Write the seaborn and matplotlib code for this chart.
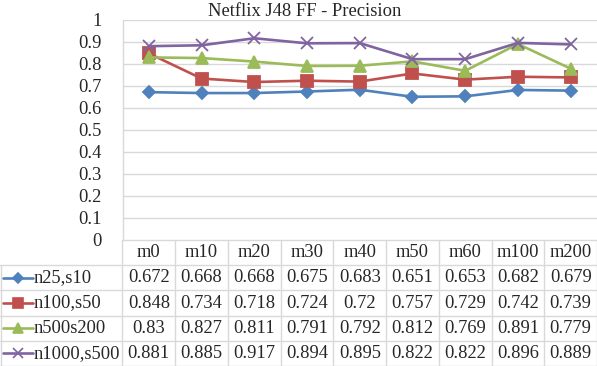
import numpy as np
import pandas as pd
import matplotlib
matplotlib.use("Agg")
import matplotlib.pyplot as plt
import seaborn as sns

categories = ["m0", "m10", "m20", "m30", "m40", "m50", "m60", "m100", "m200"]
series_names = ["n25,s10", "n100,s50", "n500s200", "n1000,s500"]
n25_s10 = [0.672, 0.668, 0.668, 0.675, 0.683, 0.651, 0.653, 0.682, 0.679]
n100_s50 = [0.848, 0.734, 0.718, 0.724, 0.72, 0.757, 0.729, 0.742, 0.739]
n500_s200 = [0.83, 0.827, 0.811, 0.791, 0.792, 0.812, 0.769, 0.891, 0.779]
n1000_s500 = [0.881, 0.885, 0.917, 0.894, 0.895, 0.822, 0.822, 0.896, 0.889]
series_values = [n25_s10, n100_s50, n500_s200, n1000_s500]
yticks = [0, 0.1, 0.2, 0.3, 0.4, 0.5, 0.6, 0.7, 0.8, 0.9, 1]

# --- style ---
sns.set_theme(style="white")
plt.rcParams["font.family"] = ["Liberation Serif", "DejaVu Serif"]
colors = ["#4F81BD", "#C0504D", "#9BBB59", "#8064A2"]
markers = ["D", "s", "^", "x"]
msizes = [6, 8, 8, 8]
grid_c = "#D9D9D9"
fs = 13.3

W, H = 597, 366
fig = plt.figure(figsize=(W / 100, H / 100), dpi=100)

left_px, right_px = 122.5, 597
top_px, bottom_px = 20, 240
ax = fig.add_axes([left_px / W, 1 - bottom_px / H, (right_px - left_px) / W, (bottom_px - top_px) / H])

n = len(categories)
for name, vals, c, m, ms in zip(series_names, series_values, colors, markers, msizes):
    sd = pd.DataFrame({"pos": np.arange(n), "value": vals})
    sns.lineplot(data=sd, x="pos", y="value", color=c, marker=m, markersize=ms,
                 markeredgecolor=c, markeredgewidth=1.3, linewidth=1.9, ax=ax)

ax.set_xlim(-0.5, n - 0.5)
ax.set_ylim(0, 1)
ax.set_yticks(yticks)
ax.set_yticklabels([f"{t:g}" for t in yticks], fontsize=fs)
ax.set_xticks([])
ax.set_xlabel("")
ax.set_ylabel("")
ax.tick_params(axis="y", length=0, pad=15)
ax.yaxis.grid(True, color=grid_c, linewidth=1)
ax.set_axisbelow(True)
for s in ["top", "right", "bottom"]:
    ax.spines[s].set_visible(False)
ax.spines["left"].set_color(grid_c)
ax.spines["left"].set_linewidth(1)

fig.text(305 / W, 1 - 11 / H, "Netflix J48 FF - Precision", ha="center", va="center", fontsize=fs)

# --- data table below ---
tab_h = H - bottom_px
tax = fig.add_axes([0, 0, 1, tab_h / H])
cw = (right_px - left_px) / n
x_left = -0.5 - left_px / cw
x_right = n - 0.5
tax.set_xlim(x_left, x_right)
nrows = len(series_names) + 1
row_px = 25.2
tax.set_ylim(tab_h / row_px, 0)
tax.axis("off")

lkw = dict(color=grid_c, linewidth=1)
tax.plot([-0.5, x_right], [0, 0], **lkw)
for r in range(1, nrows + 1):
    tax.plot([x_left, x_right], [r, r], **lkw)
for k in range(n + 1):
    tax.plot([k - 0.5, k - 0.5], [0, nrows], **lkw)
tax.plot([x_left + 0.01, x_left + 0.01], [1, nrows], **lkw)

for i, c in enumerate(categories):
    tax.text(i, 0.5, c, ha="center", va="center", fontsize=fs)

for r, (name, vals) in enumerate(zip(series_names, series_values)):
    y = r + 1.5
    tax.plot([x_left + 3 / cw, x_left + 33 / cw], [y, y], color=colors[r], linewidth=1.9)
    tax.plot([x_left + 18 / cw], [y], marker=markers[r], color=colors[r],
             markersize=msizes[r] - 1, markeredgewidth=1.2, markeredgecolor=colors[r])
    tax.text(x_left + 34 / cw, y, name, ha="left", va="center", fontsize=fs)
    for i, v in enumerate(vals):
        tax.text(i, y, f"{v:g}", ha="center", va="center", fontsize=fs)

fig.savefig("out.png", dpi=100)
